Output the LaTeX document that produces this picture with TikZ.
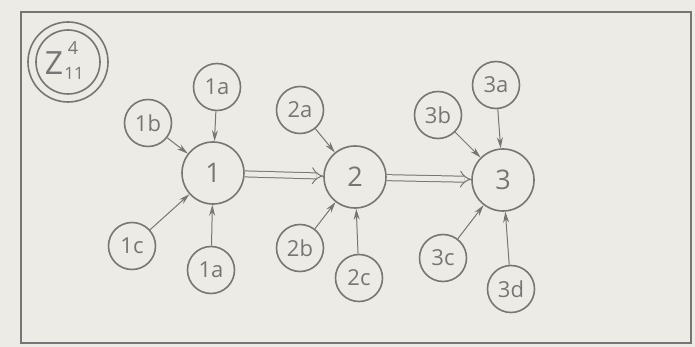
\documentclass[tikz,border=0pt]{standalone}
\usepackage{fontspec}
\setmainfont{Open Sans}
\usetikzlibrary{arrows.meta}
\definecolor{paper}{HTML}{ECEBE6}
\definecolor{pencil}{HTML}{767674}
\tikzset{
  sat/.style={circle, draw=pencil, line width=1.6pt, minimum size=47pt, inner sep=0pt, text=pencil, font=\fontsize{22}{22}\selectfont},
  hub/.style={circle, draw=pencil, line width=1.6pt, minimum size=62pt, inner sep=0pt, text=pencil, font=\fontsize{27}{27}\selectfont},
  ring/.style={circle, draw=pencil, line width=1.6pt, inner sep=0pt},
  zt/.style={text=pencil, inner sep=0pt},
  feed/.style={draw=pencil, line width=1pt, -{Stealth[length=11pt,width=6pt]}},
  link/.style={draw=pencil, line width=1pt, double=paper, double distance=5pt, -{Implies}},
  frame/.style={draw=pencil, line width=1.6pt}
}
\begin{document}
\begin{tikzpicture}[x=1pt,y=-1pt]
\fill[paper] (0,0) rectangle (695,347);
\useasboundingbox (0,0) rectangle (695,347);
\draw[frame] (21,12) rectangle (691,343);
% Z label
\node[ring, minimum size=64pt] (zin) at (68,62) {};
\node[ring, minimum size=80pt] (zout) at (68,62) {};
\node[zt, font=\fontsize{32}{32}\selectfont] (zz) at (54,63) {Z};
\node[zt, font=\fontsize{18}{18}\selectfont] (zsup) at (73,48) {4};
\node[zt, font=\fontsize{17}{17}\selectfont] (zsub) at (74,73) {11};
% hubs
\node[hub] (n1) at (213,173) {1};
\node[hub] (n2) at (355,177) {2};
\node[hub] (n3) at (503,180) {3};
% satellites of 1
\node[sat] (a1) at (217,87) {1a};
\node[sat] (b1) at (148,123) {1b};
\node[sat] (c1) at (132,246) {1c};
\node[sat] (d1) at (211,270) {1a};
% satellites of 2
\node[sat] (a2) at (300,110) {2a};
\node[sat] (b2) at (300,248) {2b};
\node[sat] (c2) at (359,278) {2c};
% satellites of 3
\node[sat] (a3) at (496,85) {3a};
\node[sat] (b3) at (438,115) {3b};
\node[sat] (c3) at (443,258) {3c};
\node[sat] (d3) at (511,289) {3d};
% feeds
\draw[feed] (a1) -- (n1);
\draw[feed] (b1) -- (n1);
\draw[feed] (c1) -- (n1);
\draw[feed] (d1) -- (n1);
\draw[feed] (a2) -- (n2);
\draw[feed] (b2) -- (n2);
\draw[feed] (c2) -- (n2);
\draw[feed] (a3) -- (n3);
\draw[feed] (b3) -- (n3);
\draw[feed] (c3) -- (n3);
\draw[feed] (d3) -- (n3);
% links
\draw[link] (n1) -- (n2);
\draw[link] (n2) -- (n3);
\end{tikzpicture}
\end{document}
